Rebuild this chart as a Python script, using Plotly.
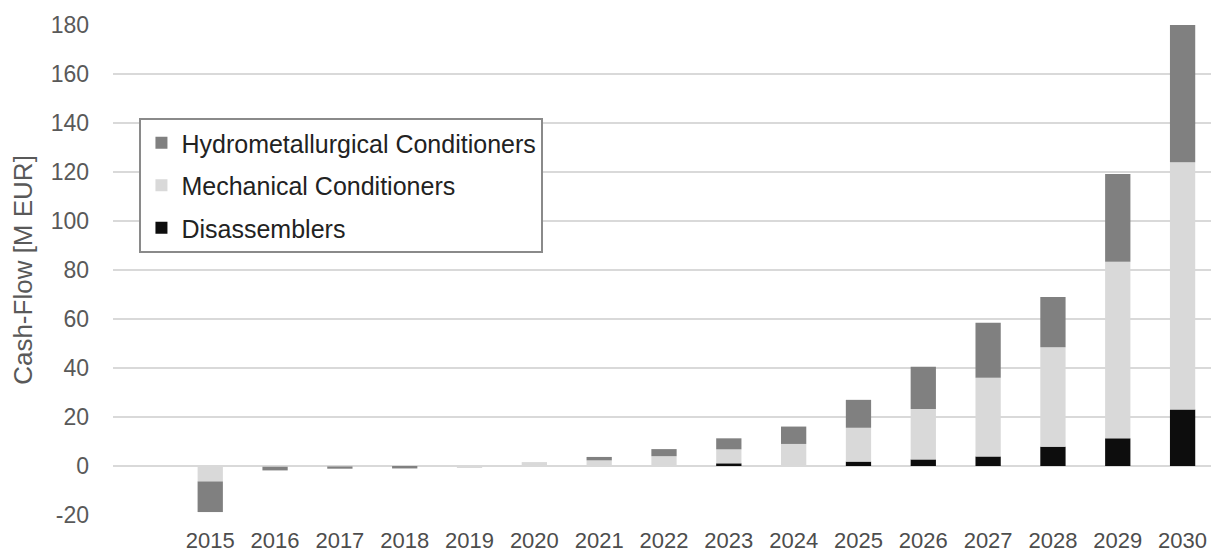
import plotly.graph_objects as go

years = ["2015", "2016", "2017", "2018", "2019", "2020", "2021", "2022",
         "2023", "2024", "2025", "2026", "2027", "2028", "2029", "2030"]
disassemblers = [0, 0, 0, 0, 0, 0, 0, 0, 1.1, 0, 1.8, 2.7, 3.9, 7.9, 11.3, 23.1]
mechanical = [-6.3, -0.3, -0.2, -0.4, -0.8, 1.6, 2.3, 4.0, 5.7, 9.0, 13.8, 20.6, 32.1, 40.6, 72.1, 100.9]
hydro = [-12.5, -1.5, -0.9, -0.6, 0, 0, 1.4, 2.9, 4.5, 7.1, 11.4, 17.2, 22.5, 20.5, 35.8, 56.4]
y_tickvals = [-20, 0, 20, 40, 60, 80, 100, 120, 140, 160, 180]
y_ticktext = ["-20", "0", "20", "40", "60", "80", "100", "120", "140", "160", "180"]

FONT = "Liberation Sans, Arial, sans-serif"

fig = go.Figure()
fig.add_trace(go.Bar(x=years, y=disassemblers, name="Disassemblers",
                     marker=dict(color="#0d0d0d", line=dict(width=0)),
                     legendgroup="a", legendrank=3))
fig.add_trace(go.Bar(x=years, y=mechanical, name="Mechanical Conditioners",
                     marker=dict(color="#d9d9d9", line=dict(width=0)),
                     legendgroup="b", legendrank=2))
fig.add_trace(go.Bar(x=years, y=hydro, name="Hydrometallurgical Conditioners",
                     marker=dict(color="#808080", line=dict(width=0)),
                     legendgroup="c", legendrank=1))

fig.update_layout(
    width=1219, height=557,
    barmode="relative",
    bargap=0.61,
    plot_bgcolor="white", paper_bgcolor="white",
    margin=dict(l=105, r=12, t=17, b=50, pad=0),
    font=dict(family=FONT, size=21, color="#595959"),
    legend=dict(
        x=0.024, y=0.81, xanchor="left", yanchor="top",
        traceorder="grouped",
        bordercolor="#8a8a8a", borderwidth=2,
        bgcolor="white",
        font=dict(family=FONT, size=25, color="#222222"),
        tracegroupgap=7,
    ),
    xaxis=dict(
        type="category",
        range=[-1.5, 15.5],
        showgrid=False,
        tickfont=dict(family=FONT, size=22, color="#4d4d4d"),
        ticks="",
        ticklabelstandoff=10,
        showline=False,
        automargin=False,
    ),
    yaxis=dict(
        range=[-20, 180],
        tickmode="array",
        tickvals=y_tickvals,
        ticktext=y_ticktext,
        showgrid=True,
        gridcolor="#d9d9d9",
        gridwidth=1.5,
        zeroline=True,
        zerolinecolor="#d9d9d9",
        zerolinewidth=1.5,
        ticks="",
        ticklabelstandoff=23,
        automargin=False,
        tickfont=dict(family=FONT, size=23, color="#595959"),
        title=dict(text="Cash-Flow [M EUR]", font=dict(family=FONT, size=26, color="#595959"), standoff=10),
    ),
)

fig.write_html("out.html")
